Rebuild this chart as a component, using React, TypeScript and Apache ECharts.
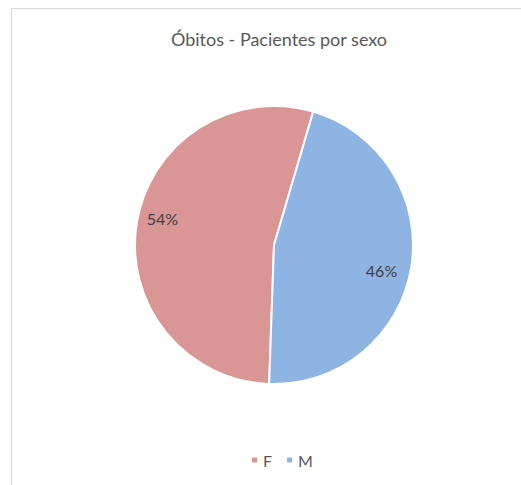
import React, { useEffect, useRef } from "react";
import * as echarts from "echarts";

const categories = ["F", "M"];
const values = [54, 46];
const colors = ["#D99694", "#8EB4E3"];
const labelOffsets = [[2, -8], [-6, 7]];
const titleText = "Óbitos - Pacientes por sexo";

export default function App() {
  const ref = useRef<HTMLDivElement>(null);
  useEffect(() => {
    if (!ref.current) return;
    const chart = echarts.init(ref.current, undefined, { renderer: "svg" });
    const data = categories.map((name, i) => ({ name, value: values[i], itemStyle: { color: colors[i] } }));
    chart.setOption({
      animation: false,
      backgroundColor: "#ffffff",
      textStyle: { fontFamily: "Lato" },
      title: {
        text: titleText,
        left: 274,
        textAlign: "center",
        top: 25,
        textStyle: { fontFamily: "Lato", fontSize: 18, fontWeight: "normal", color: "#595959" },
      },
      legend: {
        data: categories,
        top: 447,
        left: 245,
        icon: "rect",
        itemWidth: 7,
        itemHeight: 7,
        itemGap: 13,
        textStyle: { fontFamily: "Lato", fontSize: 16, color: "#595959" },
      },
      graphic: [
        {
          type: "rect",
          shape: { x: 11.5, y: 8.5, width: 700, height: 700 },
          style: { fill: "none", stroke: "#D9D9D9", lineWidth: 1 },
          silent: true,
          z: -1,
        },
      ],
      series: [
        {
          type: "pie",
          center: [274, 245],
          radius: 139,
          startAngle: 268,
          clockwise: true,
          data,
          label: { show: false },
          labelLine: { show: false },
          itemStyle: { borderColor: "#ffffff", borderWidth: 2 },
          emphasis: { disabled: true },
        },
        {
          type: "pie",
          center: [274, 245],
          radius: 224,
          startAngle: 268,
          clockwise: true,
          silent: true,
          data: categories.map((name, i) => ({ name, value: values[i], label: { offset: labelOffsets[i] } })),
          itemStyle: { color: "rgba(0,0,0,0)" },
          label: {
            show: true,
            position: "inside",
            formatter: (p: any) => p.percent.toFixed(0) + "%",
            fontFamily: "Lato",
            fontSize: 16,
            color: "#404040",
          },
          labelLine: { show: false },
          emphasis: { disabled: true },
          z: 3,
        },
      ],
    });
    return () => chart.dispose();
  }, []);
  return <div ref={ref} style={{ position: "fixed", left: 0, top: 0, width: 521, height: 485 }} />;
}
